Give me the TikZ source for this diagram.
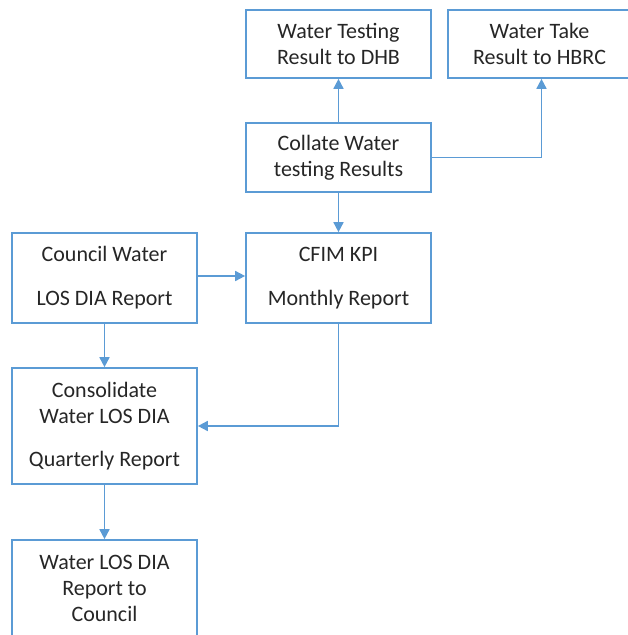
\documentclass[tikz,border=0pt]{standalone}
\usepackage{fontspec}
\setmainfont{Carlito}
\usetikzlibrary{arrows.meta}
\definecolor{flowblue}{HTML}{5B9BD5}
\definecolor{inkgray}{HTML}{262626}
\tikzset{
  box/.style={draw=flowblue, line width=1.7pt, rectangle, inner sep=0pt,
    align=center, text=inkgray,
    font=\fontsize{22}{26}\selectfont},
  flow/.style={draw=flowblue, line width=1.7pt,
    -{Triangle[length=10pt,width=10pt]}}
}
\begin{document}
\begin{tikzpicture}[x=1pt,y=-1pt]
  \useasboundingbox (0,0) rectangle (628,635);
  \begin{scope}
  \clip (0,0) rectangle (628,635);
  % process boxes
  \node[box, minimum width=185pt, minimum height=68pt] (dhb) at (338.5,44)
    {Water Testing\\Result to DHB};
  \node[box, minimum width=183pt, minimum height=68pt] (hbrc) at (539.5,44)
    {Water Take\\Result to HBRC};
  \node[box, minimum width=185pt, minimum height=69pt] (collate) at (338.5,157.5)
    {Collate Water\\testing Results};
  \node[box, minimum width=185pt, minimum height=90pt] (cfim) at (338.5,278)
    {CFIM KPI\\[18pt]Monthly Report};
  \node[box, minimum width=185pt, minimum height=90pt] (council) at (104.5,278)
    {Council Water\\[18pt]LOS DIA Report};
  \node[box, minimum width=185pt, minimum height=116pt] (consol) at (104.5,426)
    {Consolidate\\Water LOS DIA\\[17pt]Quarterly Report};
  \node[box, minimum width=185pt, minimum height=97pt] (final) at (104.5,588.5)
    {Water LOS DIA\\Report to\\Council};
  % connectors
  \draw[flow] (collate.north) -- (dhb.south);
  \draw[flow] (collate.east) -| ([xshift=2pt]hbrc.south);
  \draw[flow] (collate.south) -- (cfim.north);
  \draw[flow] ([yshift=2pt]council.east) -- ([yshift=2pt]cfim.west);
  \draw[flow] (council.south) -- (consol.north);
  \draw[flow] (cfim.south) |- (consol.east);
  \draw[flow] (consol.south) -- (final.north);
  \end{scope}
\end{tikzpicture}
\end{document}
